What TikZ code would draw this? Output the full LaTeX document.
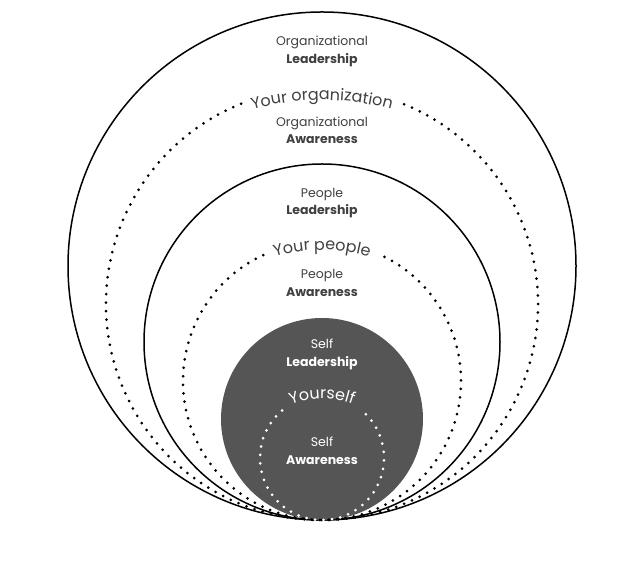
\documentclass[tikz,border=0pt]{standalone}
\usepackage{fontspec}
\setsansfont{Poppins}
\definecolor{selfgray}{RGB}{85,85,85}
\definecolor{labelgray}{RGB}{64,64,64}
\tikzset{every picture/.style={/utils/exec={\sffamily}}}
\usetikzlibrary{positioning}
\usetikzlibrary{decorations.text}
\newcommand{\arcfont}{\fontsize{16}{16}\selectfont}
\tikzset{every node/.style={align=center,
    font=\fontsize{12.5}{17.5}\selectfont, text=labelgray},
  ring/.style={ % solid outline of a circle
    circle, draw, line width=1.5pt, inner sep=0pt, outer sep=0pt},
  selfdisc/.style={circle, fill=selfgray, inner sep=0pt, outer sep=0pt},
  dotring/.style={ % dotted circle, gap left for its label
    line width=3pt, line cap=round, dash pattern=on 0pt off 8.5pt},
  arclabel/.style={decorate, decoration={text along path, text align=center,
    text color=#1}}}

\begin{document}
\begin{tikzpicture}[x=1pt, y=1pt]
  \useasboundingbox (0,0) rectangle (640,580);
  \coordinate (base) at (322,60);

  % the three solid circles, all touching at the bottom
  \node [ring, minimum size=508pt, anchor=south] (org) at (base) {};
  \node [ring, minimum size=356pt, anchor=south] (ppl) at (base) {};
  \node [selfdisc, minimum size=202pt, anchor=south] (self) at (base) {};

  % dotted circles
  \draw [dotring] (322,276) ++(112:216pt) arc [start angle=112, end angle=428, radius=216pt];
  \draw [dotring] (322,199) ++(115:139pt) arc [start angle=115, end angle=425, radius=139pt];
  \draw [dotring, white] (322,122) ++(130:62pt) arc [start angle=130, end angle=410, radius=62pt];

  % labels
  \node (orglead) at (322,528.5) {Organizational\\ \textbf{Leadership}};
  \node (orgaware) at (322,449.5) {Organizational\\ \textbf{Awareness}};
  \node (ppllead) at (322,377) {People\\ \textbf{Leadership}};
  \node (pplaware) at (322,297) {People\\ \textbf{Awareness}};
  \node [text=white] (selflead) at (322,225.5) {Self\\ \textbf{Leadership}};
  \node [text=white] (selfaware) at (322,129) {Self\\ \textbf{Awareness}};

  % curved names on the dotted circles
  \path [arclabel=labelgray, decoration={text={|\arcfont|Your organization}}]
    (322,220) ++(110:260pt) arc [start angle=110, end angle=70, radius=260pt];
  \path [arclabel=labelgray, decoration={text={|\arcfont|Your people}}]
    (322,160) ++(115:170pt) arc [start angle=115, end angle=65, radius=170pt];
  \path [arclabel=white, decoration={text={|\arcfont|Yourself}}]
    (322,91) ++(125:90pt) arc [start angle=125, end angle=55, radius=90pt];
\end{tikzpicture}
\end{document}
